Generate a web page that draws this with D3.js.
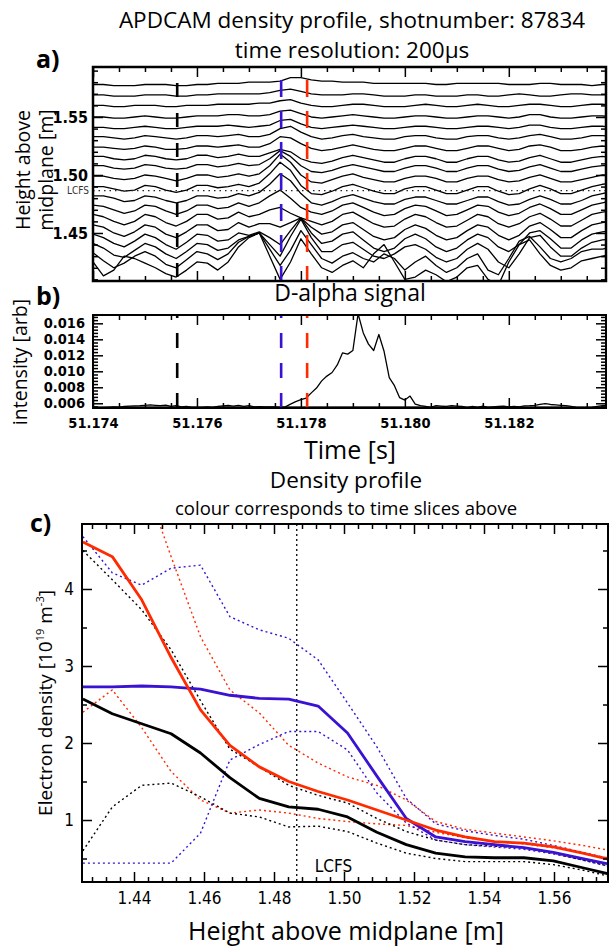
<!DOCTYPE html>
<html><head><meta charset="utf-8">
<script src="https://cdn.jsdelivr.net/npm/d3@7"></script>
<style>
body{margin:0;background:#fff}
svg{display:block}
</style>
</head><body>
<svg id="chart" width="615" height="948"></svg>
<script>
// ---------------- DATA ----------------
// panel a: contour lines (height in mm above midplane) sampled every 200 us
const contourTimes = [51.1740,51.1742,51.1744,51.1746,51.1748,51.1750,51.1752,51.1754,51.1756,51.1758,
51.1760,51.1762,51.1764,51.1766,51.1768,51.1770,51.1772,51.1774,51.1776,51.1778,
51.1780,51.1782,51.1784,51.1786,51.1788,51.1790,51.1792,51.1794,51.1796,51.1798,
51.1800,51.1802,51.1804,51.1806,51.1808,51.1810,51.1812,51.1814,51.1816,51.1818,
51.1820,51.1822,51.1824,51.1826,51.1828,51.1830,51.1832,51.1834,51.1836,51.1838,51.1840];
const contourL01 = [1578,1578,1577,1577,1577,1578,1578,1578,1577,1577,1578,1578,1579,1579,1579,1580,1580,1580,1581,1584,1584,1582,1581,1581,1580,1580,1580,1579,1579,1579,1579,1579,1579,1578,1578,1579,1579,1579,1579,1579,1578,1578,1578,1579,1579,1578,1578,1578,1577,1578,1578];
const contourL02 = [1569,1569,1568,1568,1568,1569,1569,1569,1568,1568,1569,1569,1570,1570,1570,1570,1570,1571,1573,1574,1572,1570,1569,1569,1569,1570,1570,1569,1568,1568,1568,1569,1569,1568,1568,1568,1569,1569,1568,1568,1569,1570,1569,1568,1568,1569,1570,1570,1569,1569,1569];
const contourL03 = [1560,1560,1559,1559,1560,1560,1560,1559,1559,1560,1560,1560,1561,1561,1561,1561,1562,1562,1564,1565,1562,1560,1559,1559,1560,1561,1561,1560,1559,1559,1559,1560,1561,1560,1559,1559,1560,1561,1560,1559,1559,1560,1561,1561,1560,1559,1559,1560,1561,1561,1560];
const contourL04 = [1550,1550,1549,1549,1550,1551,1550,1549,1549,1550,1551,1551,1551,1552,1552,1551,1551,1552,1555,1556,1553,1550,1549,1550,1551,1552,1551,1550,1549,1549,1550,1551,1551,1550,1549,1549,1550,1551,1551,1550,1549,1550,1552,1552,1550,1549,1549,1550,1551,1551,1550];
const contourL05 = [1541,1541,1540,1540,1541,1542,1541,1540,1540,1541,1542,1542,1542,1543,1542,1541,1542,1543,1547,1548,1544,1541,1540,1541,1542,1543,1542,1541,1540,1540,1541,1542,1542,1541,1540,1540,1541,1542,1542,1541,1540,1541,1543,1543,1541,1540,1540,1541,1542,1542,1541];
const contourL06 = [1533,1533,1532,1531,1532,1534,1533,1532,1531,1532,1534,1534,1533,1534,1535,1533,1533,1535,1540,1542,1537,1533,1531,1532,1534,1535,1533,1532,1531,1531,1533,1534,1534,1532,1531,1531,1533,1534,1534,1532,1531,1532,1534,1535,1533,1531,1531,1532,1534,1534,1533];
const contourL07 = [1524,1524,1523,1522,1523,1525,1524,1522,1522,1523,1525,1525,1524,1525,1526,1524,1524,1527,1533,1532,1527,1523,1521,1522,1524,1526,1524,1522,1521,1521,1523,1525,1525,1523,1521,1521,1523,1525,1525,1523,1521,1522,1525,1526,1524,1521,1521,1522,1524,1525,1524];
const contourL08 = [1516,1516,1514,1513,1514,1517,1516,1514,1513,1514,1517,1517,1515,1516,1518,1516,1516,1519,1522,1520,1514,1511,1510,1512,1515,1517,1515,1513,1511,1511,1514,1516,1516,1514,1511,1511,1514,1516,1516,1513,1511,1512,1515,1517,1514,1511,1511,1513,1515,1516,1515];
const contourL09 = [1508,1508,1506,1505,1506,1509,1508,1506,1505,1506,1509,1509,1507,1508,1510,1508,1509,1514,1521,1516,1508,1503,1502,1504,1507,1509,1507,1505,1503,1503,1506,1508,1508,1506,1503,1503,1506,1508,1508,1505,1503,1504,1507,1509,1506,1503,1503,1505,1507,1508,1508];
const contourL10 = [1499,1499,1497,1496,1497,1500,1499,1497,1495,1497,1500,1500,1498,1499,1501,1499,1501,1508,1518,1511,1500,1494,1493,1496,1499,1501,1498,1496,1494,1494,1497,1499,1499,1497,1494,1494,1497,1499,1499,1496,1494,1495,1498,1500,1497,1494,1494,1496,1498,1500,1500];
const contourL11 = [1490,1490,1488,1486,1487,1491,1490,1487,1485,1487,1491,1491,1489,1490,1492,1490,1493,1501,1511,1504,1491,1484,1483,1486,1490,1492,1489,1486,1484,1484,1488,1490,1490,1487,1484,1484,1487,1490,1490,1486,1483,1484,1488,1491,1488,1484,1484,1487,1490,1492,1493];
const contourL12 = [1482,1482,1480,1477,1478,1482,1481,1478,1476,1478,1482,1482,1480,1481,1484,1482,1485,1492,1501,1495,1484,1476,1474,1477,1481,1483,1480,1477,1475,1475,1479,1481,1481,1478,1475,1475,1478,1481,1481,1477,1474,1475,1479,1482,1479,1475,1475,1478,1482,1484,1486];
const contourL13 = [1474,1473,1470,1467,1469,1474,1473,1469,1466,1469,1474,1474,1471,1472,1476,1473,1476,1482,1487,1480,1472,1468,1466,1469,1474,1476,1472,1468,1465,1466,1471,1474,1473,1469,1465,1466,1470,1474,1473,1468,1465,1467,1472,1475,1471,1466,1466,1470,1474,1476,1478];
const contourL14 = [1466,1464,1460,1457,1460,1466,1464,1459,1456,1460,1466,1466,1462,1463,1468,1464,1466,1470,1472,1467,1463,1460,1457,1460,1466,1468,1463,1458,1455,1456,1462,1466,1464,1459,1455,1456,1461,1466,1464,1458,1455,1458,1464,1467,1462,1456,1456,1461,1466,1468,1469];
const contourL15 = [1457,1455,1450,1447,1451,1457,1455,1449,1446,1451,1457,1457,1452,1453,1459,1455,1458,1458,1455,1459,1463,1455,1449,1451,1457,1459,1453,1447,1444,1446,1453,1457,1454,1448,1444,1446,1452,1457,1455,1448,1444,1448,1456,1459,1453,1446,1446,1452,1457,1459,1460];
const contourL16 = [1449,1446,1441,1438,1443,1449,1446,1440,1436,1442,1449,1448,1443,1444,1450,1448,1451,1446,1440,1452,1463,1450,1441,1443,1449,1451,1444,1437,1434,1437,1445,1449,1445,1438,1434,1437,1444,1449,1446,1438,1434,1440,1450,1452,1445,1437,1437,1444,1449,1451,1452];
const contourL17 = [1441,1437,1431,1429,1435,1441,1438,1432,1428,1434,1441,1440,1435,1437,1444,1447,1450,1440,1430,1447,1462,1446,1434,1434,1440,1442,1436,1430,1428,1432,1438,1440,1436,1429,1425,1428,1436,1441,1436,1425,1420,1432,1446,1448,1438,1430,1430,1437,1442,1444,1445];
const contourL18 = [1433,1426,1420,1424,1430,1434,1430,1423,1420,1427,1434,1432,1427,1432,1442,1447,1450,1436,1422,1435,1452,1440,1428,1424,1430,1433,1428,1425,1432,1428,1418,1425,1430,1422,1416,1420,1428,1432,1418,1414,1428,1443,1447,1438,1428,1425,1428,1434,1436,1436,1438];
const contourL19 = [1425,1413,1418,1430,1428,1424,1420,1415,1412,1418,1425,1424,1418,1425,1438,1446,1450,1430,1410,1425,1445,1432,1420,1416,1422,1426,1420,1432,1440,1425,1410,1412,1418,1414,1408,1412,1420,1422,1410,1405,1425,1440,1444,1432,1422,1418,1420,1426,1428,1430,1432];
const contourLines = [contourL01,contourL02,contourL03,contourL04,contourL05,contourL06,contourL07,contourL08,contourL09,contourL10,contourL11,contourL12,contourL13,contourL14,contourL15,contourL16,contourL17,contourL18,contourL19];
const lcfsHeight = 1.4865;

// time slices (dashed lines) and their colours
const sliceTimes = [51.17562, 51.17762, 51.17812];
const sliceColors = ["#000000", "#3a12d2", "#ff2a00"];

// panel b: D-alpha signal
const dalphaTimes = [51.1740,51.1741,51.1742,51.1743,51.1744,51.1745,51.1746,51.1747,51.1748,51.1749,
51.1750,51.1751,51.1752,51.1753,51.1754,51.1755,51.1756,51.1757,51.1758,51.1759,
51.1760,51.1761,51.1762,51.1763,51.1764,51.1765,51.1766,51.1767,51.1768,51.1769,
51.1770,51.1771,51.1772,51.1773,51.1774,51.1775,51.1776,51.1777,51.1778,51.1779,
51.1780,51.1781,51.1782,51.1783,51.1784,51.1785,51.1786,51.1787,51.1788,51.1789,
51.1790,51.1791,51.1792,51.1793,51.1794,51.1795,51.1796,51.1797,51.1798,51.1799,
51.1800,51.1801,51.1802,51.1803,51.1804,51.1805,51.1806,51.1807,51.1808,51.1809,
51.1810,51.1811,51.1812,51.1813,51.1814,51.1815,51.1816,51.1817,51.1818,51.1819,
51.1820,51.1821,51.1822,51.1823,51.1824,51.1825,51.1826,51.1827,51.1828,51.1829,
51.1830,51.1831,51.1832,51.1833,51.1834,51.1835,51.1836,51.1837,51.1838,51.1839];
const dalphaValues = [0.00545,0.00540,0.00545,0.00550,0.00555,0.00552,0.00560,0.00565,0.00568,0.00570,
0.00575,0.00580,0.00575,0.00570,0.00578,0.00560,0.00572,0.00555,0.00562,0.00550,
0.00548,0.00550,0.00555,0.00550,0.00560,0.00568,0.00572,0.00565,0.00575,0.00560,
0.00570,0.00555,0.00558,0.00555,0.00555,0.00555,0.00550,0.00555,0.00590,0.00620,
0.00645,0.00665,0.00730,0.00790,0.00880,0.00940,0.00985,0.01080,0.01230,0.01215,
0.01260,0.01720,0.01480,0.01340,0.01260,0.01460,0.01250,0.00920,0.00820,0.00670,
0.00640,0.00690,0.00590,0.00570,0.00560,0.00550,0.00570,0.00565,0.00560,0.00570,
0.00565,0.00560,0.00545,0.00560,0.00550,0.00565,0.00548,0.00555,0.00560,0.00565,
0.00555,0.00560,0.00555,0.00568,0.00570,0.00575,0.00585,0.00595,0.00585,0.00580,
0.00575,0.00570,0.00560,0.00550,0.00545,0.00545,0.00550,0.00560,0.00570,0.00575];
const dalphaBgTimes = [51.1740,51.1750,51.1760,51.1770,51.1780,51.1790,51.1800,51.1810,51.1820,51.1830,51.1840];
const dalphaBgValues = [0.00546,0.00547,0.00546,0.00547,0.00546,0.00546,0.00547,0.00546,0.00547,0.00546,0.00547];

// panel c: density profiles
const profileHeights = [1.4254,1.4338,1.4422,1.4506,1.4590,1.4674,1.4758,1.4842,1.4926,1.5010,1.5094,1.5178,1.5262,1.5346,1.5430,1.5514,1.5598,1.5682,1.5766];
const redSolid    = [4.61,4.42,3.86,3.11,2.43,1.97,1.69,1.50,1.37,1.26,1.13,1.00,0.87,0.78,0.72,0.70,0.65,0.57,0.48];
const blueSolid   = [2.73,2.73,2.74,2.73,2.70,2.62,2.58,2.57,2.48,2.13,1.57,1.02,0.78,0.72,0.68,0.64,0.58,0.50,0.42];
const blackSolid  = [2.57,2.38,2.25,2.12,1.87,1.55,1.28,1.17,1.14,1.04,0.84,0.68,0.57,0.52,0.51,0.51,0.47,0.38,0.29];
const redUpper    = [6.60,6.00,5.50,4.42,3.38,2.69,2.39,1.97,1.74,1.56,1.45,1.26,0.98,0.88,0.83,0.78,0.73,0.67,0.60];
const redLower    = [2.40,2.69,2.20,1.63,1.26,1.09,1.13,1.09,1.02,0.98,0.95,0.93,0.84,0.77,0.72,0.69,0.64,0.57,0.50];
const blueUpper   = [4.68,4.21,4.05,4.27,4.31,3.64,3.47,3.36,3.08,2.52,1.95,1.28,0.95,0.86,0.80,0.75,0.67,0.58,0.49];
const blueLower   = [0.44,0.44,0.44,0.44,0.83,1.78,1.98,2.15,2.15,1.91,1.35,0.96,0.74,0.68,0.65,0.62,0.56,0.48,0.39];
const blackUpper  = [4.50,4.12,3.73,3.21,2.55,1.92,1.69,1.45,1.32,1.22,1.02,0.85,0.74,0.68,0.66,0.64,0.57,0.48,0.39];
const blackLower  = [0.60,1.17,1.45,1.48,1.30,1.09,1.04,0.91,0.92,0.85,0.70,0.57,0.50,0.46,0.46,0.46,0.42,0.35,0.26];

// tick values
const timeMajorTicks = [51.174,51.176,51.178,51.180,51.182];
const heightATicks = [1.45,1.50,1.55];
const intensityTicks = [0.006,0.008,0.010,0.012,0.014,0.016];
const heightCTicks = [1.44,1.46,1.48,1.50,1.52,1.54,1.56];
const densityTicks = [1,2,3,4];

// ---------------- DRAWING ----------------
const svg = d3.select("#chart");
const TXT = '"Open Sans","Noto Sans",sans-serif';
const NUM = '"Liberation Sans Narrow","DejaVu Sans Condensed","Liberation Sans",sans-serif';

const A = {l:93, r:606, t:67, b:281};
const B = {l:93, r:606, t:315, b:408};
const C = {l:82, r:608, t:524, b:882};

const xT = d3.scaleLinear().domain([51.174, 51.18387]).range([A.l, A.r]);
const yA = d3.scaleLinear().domain([1.4086, 1.5931]).range([A.b, A.t]);
const yB = d3.scaleLinear().domain([0.00541, 0.01704]).range([B.b, B.t]);
const xC = d3.scaleLinear().domain([1.42514, 1.57543]).range([C.l, C.r]);
const yC = d3.scaleLinear().domain([0.195, 4.844]).range([C.b, C.t]);

function rangeTicks(a, b, step, excl) {
  const out = [];
  const n = Math.round((b - a) / step);
  for (let i = 0; i <= n; i++) {
    const v = +(a + i * step).toFixed(6);
    if (!excl.some(e => Math.abs(e - v) < step / 10)) out.push(v);
  }
  return out;
}

const defs = svg.append("defs");
function clip(id, P) {
  defs.append("clipPath").attr("id", id).append("rect")
    .attr("x", P.l).attr("y", P.t).attr("width", P.r - P.l).attr("height", P.b - P.t);
}
clip("clipA", A); clip("clipB", B); clip("clipC", C);

function frameAxes(P, xs, ys, opt) {
  const g = svg.append("g");
  const mk = (axis, tr, vals, size, fmt) => {
    const ag = g.append("g").attr("transform", tr)
      .call(axis.tickValues(vals).tickSize(size).tickPadding(opt.pad || 6).tickFormat(fmt || ""));
    ag.select(".domain").remove();
    ag.selectAll(".tick line").attr("stroke", "#000").attr("stroke-width", 1.5);
    return ag;
  };
  const bx = mk(d3.axisBottom(xs), `translate(0,${P.b})`, opt.xMajor, -10, opt.xFmt);
  mk(d3.axisBottom(xs), `translate(0,${P.b})`, opt.xMinor, -5);
  mk(d3.axisTop(xs), `translate(0,${P.t})`, opt.xMajor, -10);
  mk(d3.axisTop(xs), `translate(0,${P.t})`, opt.xMinor, -5);
  const ly = mk(d3.axisLeft(ys), `translate(${P.l},0)`, opt.yMajor, -10, opt.yFmt);
  mk(d3.axisLeft(ys), `translate(${P.l},0)`, opt.yMinor, -5);
  mk(d3.axisRight(ys), `translate(${P.r},0)`, opt.yMajor, -10);
  mk(d3.axisRight(ys), `translate(${P.r},0)`, opt.yMinor, -5);
  [bx, ly].forEach(s => s.selectAll("text")
      .attr("font-family", NUM).attr("font-size", opt.fs).attr("font-weight", opt.fw).attr("fill", "#000"));
  bx.selectAll("text").attr("dy", "0.85em");
  g.append("rect").attr("x", P.l).attr("y", P.t).attr("width", P.r - P.l).attr("height", P.b - P.t)
    .attr("fill", "none").attr("stroke", "#000").attr("stroke-width", opt.fw2 || 2);
  return {bx, ly};
}

// ---- titles ----
function txt(x, y, s, size, opts = {}) {
  return svg.append("text").attr("x", x).attr("y", y).attr("text-anchor", opts.anchor || "middle")
    .attr("font-family", opts.family || TXT).attr("font-size", size)
    .attr("font-weight", opts.weight || "normal").attr("fill", "#000").text(s);
}
txt(352, 28, "APDCAM density profile, shotnumber: 87834", 22.5);
txt(352, 58, "time resolution: 200µs", 22.5);
txt(36, 68, "a)", 25, {anchor: "start", weight: "bold"});
txt(36, 305, "b)", 25, {anchor: "start", weight: "bold"});
txt(30, 532, "c)", 25, {anchor: "start", weight: "bold"});
txt(350, 301, "D-alpha signal", 23);
txt(350, 459, "Time [s]", 25);
txt(346, 488, "Density profile", 22.5);
txt(346, 515, "colour corresponds to time slices above", 18.5);
txt(346, 940, "Height above midplane [m]", 25);

function rtxt(x, y, s, size) {
  return svg.append("text").attr("transform", `translate(${x},${y}) rotate(-90)`)
    .attr("text-anchor", "middle").attr("font-family", TXT).attr("font-size", size).attr("fill", "#000").text(s);
}
rtxt(30, 170, "Height above", 19.5);
rtxt(53, 170, "midplane [m]", 19.5);
rtxt(27, 362, "intensity [arb]", 19.5);
const et = svg.append("text").attr("transform", `translate(52,703) rotate(-90)`)
  .attr("text-anchor", "middle").attr("font-family", TXT).attr("font-size", 19).attr("fill", "#000");
et.append("tspan").text("Electron density [10");
et.append("tspan").attr("font-size", 11).attr("dy", -8).text("19");
et.append("tspan").attr("dy", 8).text(" m");
et.append("tspan").attr("font-size", 11).attr("dy", -8).text("-3");
et.append("tspan").attr("dy", 8).text("]");

// ---- panel a ----
const gA = svg.append("g").attr("clip-path", "url(#clipA)");
const lineA = d3.line().x((d, i) => xT(contourTimes[i])).y(d => yA(d / 1000));
gA.selectAll("path.c").data(contourLines).join("path")
  .attr("d", lineA).attr("fill", "none").attr("stroke", "#000").attr("stroke-width", 1.3)
  .attr("stroke-linejoin", "round");
gA.append("line").attr("x1", A.l).attr("x2", A.r).attr("y1", yA(lcfsHeight)).attr("y2", yA(lcfsHeight))
  .attr("stroke", "#222").attr("stroke-width", 1.2).attr("stroke-dasharray", "1.5,4");
gA.selectAll("line.s").data(sliceTimes).join("line")
  .attr("x1", d => xT(d)).attr("x2", d => xT(d)).attr("y1", A.t).attr("y2", A.b)
  .attr("stroke", (d, i) => sliceColors[i]).attr("stroke-width", 2.6)
  .attr("stroke-dasharray", (d, i) => i === 0 ? "14,16" : "17,14")
  .attr("stroke-dashoffset", (d, i) => i === 0 ? 14 : 18);
frameAxes(A, xT, yA, {
  xMajor: timeMajorTicks, xMinor: rangeTicks(51.1740, 51.1835, 0.0005, timeMajorTicks),
  yMajor: heightATicks, yMinor: rangeTicks(1.41, 1.59, 0.01, heightATicks),
  yFmt: d3.format(".2f"), xFmt: "", fs: 16, fw: "bold", pad: 5, fw2: 2.5
});
txt(89, 194, "LCFS", 10, {anchor: "end", family: NUM}).attr("fill", "#333");

// ---- panel b ----
const gB = svg.append("g").attr("clip-path", "url(#clipB)");
gB.append("path").datum(dalphaBgValues)
  .attr("d", d3.line().x((d, i) => xT(dalphaBgTimes[i])).y(d => yB(d)))
  .attr("fill", "none").attr("stroke", "#555").attr("stroke-width", 3);
gB.append("path").datum(dalphaValues)
  .attr("d", d3.line().x((d, i) => xT(dalphaTimes[i])).y(d => yB(d)))
  .attr("fill", "none").attr("stroke", "#000").attr("stroke-width", 1.3).attr("stroke-linejoin", "round");
gB.selectAll("line.s").data(sliceTimes).join("line")
  .attr("x1", d => xT(d)).attr("x2", d => xT(d)).attr("y1", B.t).attr("y2", B.b)
  .attr("stroke", (d, i) => sliceColors[i]).attr("stroke-width", 2.6)
  .attr("stroke-dasharray", "15,15").attr("stroke-dashoffset", 12);
frameAxes(B, xT, yB, {
  xMajor: timeMajorTicks, xMinor: rangeTicks(51.1740, 51.1835, 0.0005, timeMajorTicks),
  yMajor: intensityTicks, yMinor: rangeTicks(0.0056, 0.0168, 0.0004, intensityTicks),
  yFmt: d3.format(".3f"), xFmt: d3.format(".3f"), fs: 14.5, fw: "bold", pad: 8
});

// ---- panel c ----
const gC = svg.append("g").attr("clip-path", "url(#clipC)");
const lineC = d3.line().x((d, i) => xC(profileHeights[i])).y(d => yC(d));
const dotted = [[redUpper, sliceColors[2]], [redLower, sliceColors[2]], [blueUpper, sliceColors[1]],
                [blueLower, sliceColors[1]], [blackUpper, sliceColors[0]], [blackLower, sliceColors[0]]];
gC.selectAll("path.dot").data(dotted).join("path")
  .attr("d", d => lineC(d[0])).attr("fill", "none").attr("stroke", d => d[1])
  .attr("stroke-width", 1.4).attr("stroke-dasharray", "2,3");
gC.append("line").attr("x1", xC(lcfsHeight)).attr("x2", xC(lcfsHeight)).attr("y1", C.t).attr("y2", C.b)
  .attr("stroke", "#000").attr("stroke-width", 1.3).attr("stroke-dasharray", "2,3");
const solid = [[blackSolid, sliceColors[0]], [blueSolid, sliceColors[1]], [redSolid, sliceColors[2]]];
gC.selectAll("path.sol").data(solid).join("path")
  .attr("d", d => lineC(d[0])).attr("fill", "none").attr("stroke", d => d[1])
  .attr("stroke-width", 2.8).attr("stroke-linejoin", "round");
frameAxes(C, xC, yC, {
  xMajor: heightCTicks, xMinor: rangeTicks(1.428, 1.572, 0.004, heightCTicks),
  yMajor: densityTicks, yMinor: [0.5, 1.5, 2.5, 3.5, 4.5],
  yFmt: d3.format("d"), xFmt: d3.format(".2f"), fs: 17, fw: "normal", pad: 8
});
txt(xC(lcfsHeight) + 18, 872, "LCFS", 17, {anchor: "start", family: NUM});
</script>
</body></html>
